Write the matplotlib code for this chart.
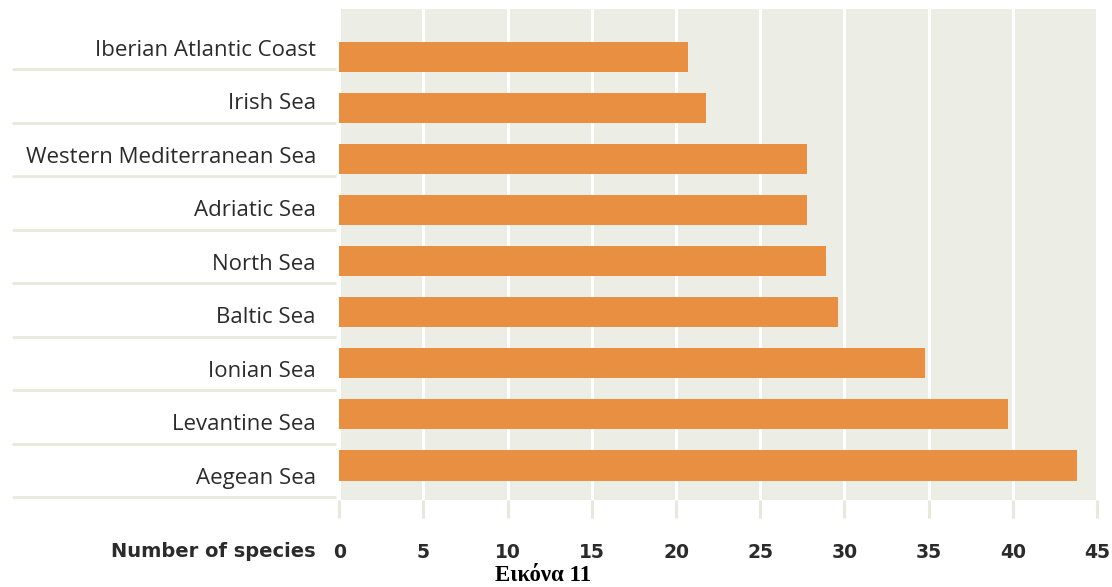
import matplotlib
matplotlib.use("Agg")
import matplotlib.pyplot as plt

# Number of species recorded per sea area
regions = [
    "Iberian Atlantic Coast",
    "Irish Sea",
    "Western Mediterranean Sea",
    "Adriatic Sea",
    "North Sea",
    "Baltic Sea",
    "Ionian Sea",
    "Levantine Sea",
    "Aegean Sea",
]
species = [20.7, 21.8, 27.8, 27.8, 28.9, 29.6, 34.8, 39.7, 43.8]
ticks = [0, 5, 10, 15, 20, 25, 30, 35, 40, 45]
tick_labels = [str(t) for t in ticks]
axis_title = "Number of species"
caption = "Εικόνα 11"

# Colours
ORANGE = "#e88f42"
PANEL = "#ecede4"
RULE = "#e7e9dc"
TEXT = "#2b2b2b"

W, H, DPI = 1112, 587, 100
fig = plt.figure(figsize=(W / DPI, H / DPI), dpi=DPI)
fig.patch.set_facecolor("white")


def px_rect(left, top, right, bottom):
    """Axes rectangle from pixel edges (origin top-left)."""
    return [left / W, 1 - bottom / H, (right - left) / W, (bottom - top) / H]


# Bar panel
ax = fig.add_axes(px_rect(338, 9, 1099, 500))
ax.set_facecolor(PANEL)
rows = list(range(len(regions)))
ax.barh(rows, species, height=0.59, color=ORANGE, zorder=3)
ax.set_xlim(-0.077, 45.12)
ax.set_ylim(8.676, -0.94)
for sp in ax.spines.values():
    sp.set_visible(False)
ax.set_xticks(ticks)
ax.set_xticklabels(tick_labels, fontfamily="DejaVu Sans", fontweight="bold",
                   fontsize=13.5, color=TEXT)
ax.tick_params(axis="x", length=13, width=2.2, color=RULE, direction="out",
               pad=18)
ax.set_yticks([])
ax.grid(axis="x", color="white", linewidth=2.2, zorder=1)
ax.set_axisbelow(True)

# Label column with separator rules
lab = fig.add_axes(px_rect(12, 15.5, 336, 497))
lab.set_xlim(0, 1)
lab.set_ylim(len(regions) - 0.5, -0.5)
lab.axis("off")
lab.hlines([r + 0.5 for r in rows], 0, 1, color=RULE, linewidth=2.0,
           clip_on=False)
for r, name in zip(rows, regions):
    lab.text(0.938, r + 0.257, name, ha="right", va="baseline",
             fontfamily="Open Sans", fontsize=16, color=TEXT)

# Axis title, left of the tick labels
fig.text(316 / W, 1 - 557 / H, axis_title, ha="right", va="baseline",
         fontfamily="DejaVu Sans", fontweight="bold", fontsize=14, color=TEXT)

# Caption
fig.text(543 / W, 1 - 586 / H, caption, ha="center", va="bottom",
         fontfamily="Liberation Serif", fontweight="bold", fontsize=16.5,
         color="black")

fig.savefig("out.png", dpi=DPI, facecolor="white")
